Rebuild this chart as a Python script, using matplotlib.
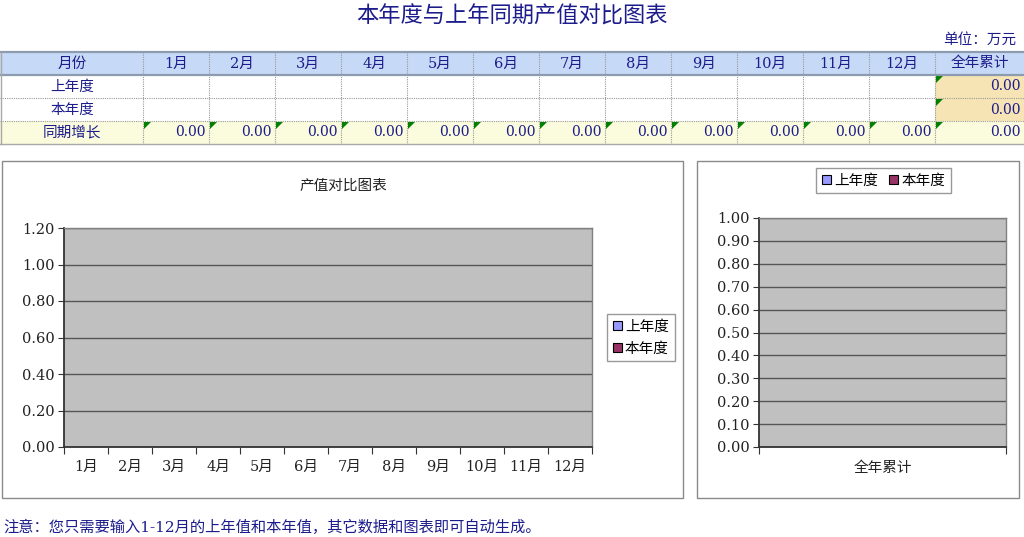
import matplotlib
matplotlib.use('Agg')
import matplotlib.pyplot as plt
from matplotlib.patches import Rectangle, Polygon, Patch
import numpy as np

plt.rcParams['font.family'] = ['DejaVu Serif', 'Noto Sans CJK SC', 'DejaVu Sans']

# ---------------- data ----------------
title = '本年度与上年同期产值对比图表'
unit_label = '单位：万元'
row_header = '月份'
months = ['1月', '2月', '3月', '4月', '5月', '6月', '7月', '8月', '9月', '10月', '11月', '12月']
total_header = '全年累计'
row_labels = ['上年度', '本年度', '同期增长']
last_year = [None, None, None, None, None, None, None, None, None, None, None, None]
this_year = [None, None, None, None, None, None, None, None, None, None, None, None]
growth = [0.00, 0.00, 0.00, 0.00, 0.00, 0.00, 0.00, 0.00, 0.00, 0.00, 0.00, 0.00]
total_last = 0.00
total_this = 0.00
total_growth = 0.00
chart_title = '产值对比图表'
series_names = ['上年度', '本年度']
series_colors = ['#9999FF', '#993366']
left_yticks = [0.00, 0.20, 0.40, 0.60, 0.80, 1.00, 1.20]
right_yticks = [0.00, 0.10, 0.20, 0.30, 0.40, 0.50, 0.60, 0.70, 0.80, 0.90, 1.00]
note = '注意：您只需要输入1-12月的上年值和本年值，其它数据和图表即可自动生成。'

# ---------------- style ----------------
W, H = 1024, 537
navy = '#1c1c8c'
header_bg = '#C6D9F6'
growth_bg = '#FBFBDE'
total_bg = '#F6E4B4'
grid_c = '#9a9a9a'
num_fs = 10

fig = plt.figure(figsize=(W / 100, H / 100), dpi=100)
bg = fig.add_axes([0, 0, 1, 1])
bg.set_xlim(0, W)
bg.set_ylim(H, 0)
bg.axis('off')

bg.text(512, 17, title, ha='center', va='center', fontsize=16, color=navy)
bg.text(1016, 40, unit_label, ha='right', va='center', fontsize=10.5, color=navy)

# table geometry
col_edges = [0] + [143 + 66 * i for i in range(13)] + [W]
row_edges = [52, 75, 98, 121, 144]

# fills
bg.add_patch(Rectangle((0, row_edges[0]), W, row_edges[1] - row_edges[0], fc=header_bg, ec='none'))
bg.add_patch(Rectangle((0, row_edges[3]), W, row_edges[4] - row_edges[3], fc=growth_bg, ec='none'))
bg.add_patch(Rectangle((col_edges[13], row_edges[1]), W - col_edges[13], row_edges[3] - row_edges[1],
                       fc=total_bg, ec='none'))

# grid lines
for x in col_edges[1:-1]:
    bg.plot([x, x], [row_edges[0], row_edges[4]], color=grid_c, lw=0.8, ls=(0, (1, 1)))
for y in row_edges[2:4]:
    bg.plot([0, W], [y, y], color=grid_c, lw=0.8, ls=(0, (1, 1)))
bg.plot([0, W], [row_edges[0], row_edges[0]], color='#8C9BB0', lw=1.6)
bg.plot([0, W], [row_edges[1], row_edges[1]], color='#8C9BB0', lw=1.6)
bg.plot([0, W], [row_edges[4], row_edges[4]], color='#A8A8A8', lw=1.0)
bg.plot([0.5, 0.5], [row_edges[0], row_edges[4]], color='#A8A8A8', lw=1.0)


def tri(x, y):
    bg.add_patch(Polygon([(x + 1, y + 1), (x + 8, y + 1), (x + 1, y + 8)], closed=True,
                         fc='#008000', ec='none'))


def rc(i):
    return (row_edges[i] + row_edges[i + 1]) / 2


# header text
bg.text(72, rc(0), row_header, ha='center', va='center', fontsize=10.5, color=navy)
for i, m in enumerate(months):
    cx = (col_edges[i + 1] + col_edges[i + 2]) / 2
    bg.text(cx, rc(0), m, ha='center', va='center', fontsize=10.5, color=navy)
bg.text((col_edges[13] + W) / 2, rc(0), total_header, ha='center', va='center', fontsize=10.5, color=navy)

for r, lab in enumerate(row_labels):
    bg.text(72, rc(r + 1), lab, ha='center', va='center', fontsize=10.5, color=navy)

for i, v in enumerate(last_year):
    if v is not None:
        bg.text(col_edges[i + 2] - 3, rc(1), f'{v:.2f}', ha='right', va='center', fontsize=num_fs, color=navy)
for i, v in enumerate(this_year):
    if v is not None:
        bg.text(col_edges[i + 2] - 3, rc(2), f'{v:.2f}', ha='right', va='center', fontsize=num_fs, color=navy)
for i, v in enumerate(growth):
    bg.text(col_edges[i + 2] - 3, rc(3), f'{v:.2f}', ha='right', va='center', fontsize=num_fs, color=navy)
    tri(col_edges[i + 1], row_edges[3])
for r, v in enumerate([total_last, total_this, total_growth]):
    bg.text(W - 3, rc(r + 1), f'{v:.2f}', ha='right', va='center', fontsize=num_fs, color=navy)
    tri(col_edges[13], row_edges[r + 1])

# chart panels
bg.add_patch(Rectangle((2, 161), 681, 337, fc='white', ec='#8a8a8a', lw=1.0))
bg.add_patch(Rectangle((697, 161), 322, 337, fc='white', ec='#8a8a8a', lw=1.0))
bg.text(343, 186, chart_title, ha='center', va='center', fontsize=10.5, color='#222222')

bg.text(3, 527, note, ha='left', va='center', fontsize=11, color=navy)


def style_axes(ax, yticks, ymax):
    ax.set_facecolor('#C0C0C0')
    ax.set_ylim(0, ymax)
    ax.set_yticks(yticks)
    ax.set_yticklabels([f'{t:.2f}' for t in yticks], fontsize=10.5)
    ax.yaxis.grid(True, color='#555555', lw=1.0)
    ax.set_axisbelow(True)
    for s in ['top', 'right']:
        ax.spines[s].set_color('#808080')
        ax.spines[s].set_linewidth(1.0)
    for s in ['left', 'bottom']:
        ax.spines[s].set_color('#333333')
        ax.spines[s].set_linewidth(1.3)
    ax.tick_params(axis='y', direction='out', length=4, color='#333333', pad=3, labelcolor='#222222')


def fx(px):
    return px / W


def fy(py):
    return 1 - py / H


# left chart
ax1 = fig.add_axes([fx(64), fy(447), fx(592 - 64), (447 - 228) / H])
x = np.arange(len(months))
bw = 0.3
h1 = [v if v is not None else 0 for v in last_year]
h2 = [v if v is not None else 0 for v in this_year]
ax1.bar(x - bw / 2, h1, bw, color=series_colors[0], edgecolor='none')
ax1.bar(x + bw / 2, h2, bw, color=series_colors[1], edgecolor='none')
ax1.set_xlim(-0.5, len(months) - 0.5)
style_axes(ax1, left_yticks, 1.2)
ax1.set_xticks(np.arange(-0.5, len(months), 1))
ax1.set_xticklabels([])
ax1.set_xticks(x, minor=True)
ax1.set_xticklabels(months, minor=True, fontsize=10.5)
ax1.tick_params(axis='x', which='major', direction='out', length=5, color='#333333')
ax1.tick_params(axis='x', which='minor', length=0, pad=9, labelcolor='#222222')

# right chart
ax2 = fig.add_axes([fx(759), fy(447), fx(1006 - 759), (447 - 218) / H])
ax2.bar([-bw / 2], [total_last], bw, color=series_colors[0], edgecolor='none')
ax2.bar([bw / 2], [total_this], bw, color=series_colors[1], edgecolor='none')
ax2.set_xlim(-0.5, 0.5)
style_axes(ax2, right_yticks, 1.0)
ax2.set_xticks([-0.5, 0.5])
ax2.set_xticklabels([])
ax2.set_xticks([0], minor=True)
ax2.set_xticklabels([total_header], minor=True, fontsize=10.5)
ax2.tick_params(axis='x', which='major', direction='out', length=5, color='#333333')
ax2.tick_params(axis='x', which='minor', length=0, pad=10, labelcolor='#222222')

handles = [Patch(fc=c, ec='black', lw=0.8) for c in series_colors]
leg_kw = dict(frameon=True, fancybox=False, edgecolor='#808080', handlelength=0.6, handleheight=0.6,
              handletextpad=0.2, borderpad=0.4, prop={'size': 10.5})
fig.legend(handles, series_names, loc='center', bbox_to_anchor=(fx(641), fy(337.5)),
           labelspacing=0.55, **leg_kw)
fig.legend(handles, series_names, loc='center', bbox_to_anchor=(fx(883.5), fy(180.5)),
           ncol=2, columnspacing=0.8, **leg_kw)

fig.savefig('out.png', dpi=100)
